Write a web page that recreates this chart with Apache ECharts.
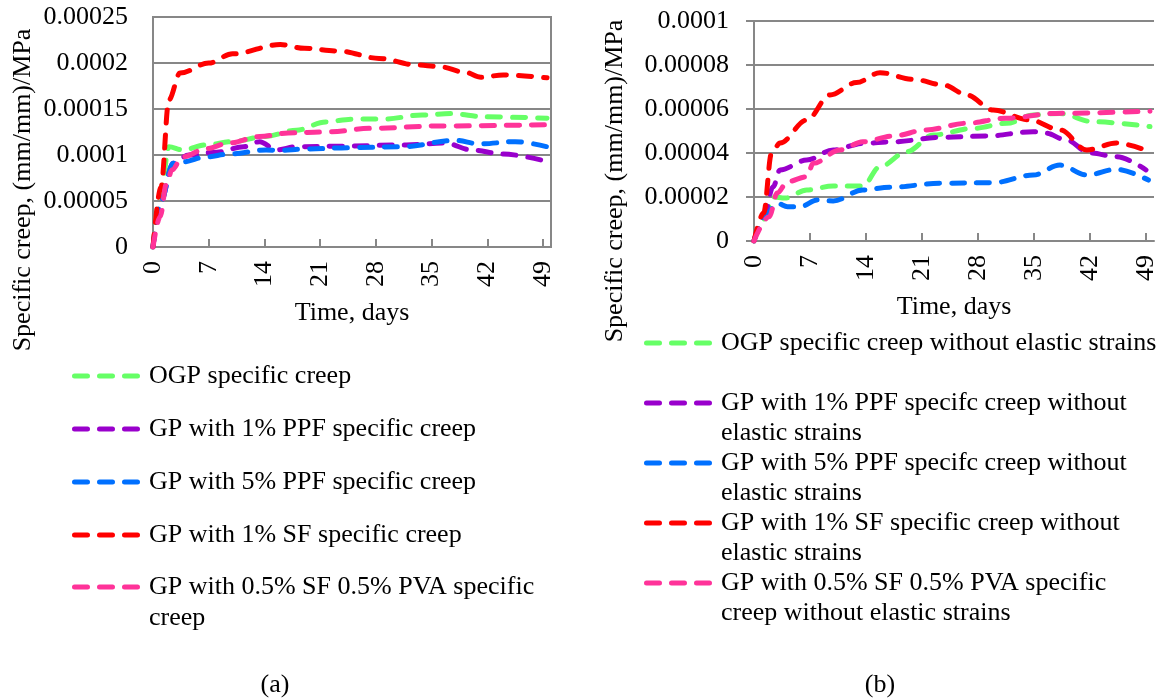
<!DOCTYPE html>
<html>
<head>
<meta charset="utf-8">
<script src="https://cdn.jsdelivr.net/npm/echarts@6/dist/echarts.min.js"></script>
<style>html,body{margin:0;padding:0;background:#fff;}#c{width:1174px;height:699px;}</style>
</head>
<body>
<div id="c"></div>
<script>
// ---------- Data (a) specific creep ----------
const dayTicks = [0, 7, 14, 21, 28, 35, 42, 49];
const yTicksA = [0, 0.00005, 0.0001, 0.00015, 0.0002, 0.00025];
const yTicksB = [0, 0.00002, 0.00004, 0.00006, 0.00008, 0.0001];

const yTitle = 'Specific creep, (mm/mm)/MPa';
const xTitle = 'Time, days';
const namesA = [
  'OGP specific creep',
  'GP with 1% PPF specific creep',
  'GP with 5% PPF specific creep',
  'GP with 1% SF specific creep',
  'GP with 0.5% SF 0.5% PVA specific\ncreep'
];
const namesB = [
  'OGP specific creep without elastic strains',
  'GP with 1% PPF specifc creep without\nelastic strains',
  'GP with 5% PPF specifc creep without\nelastic strains',
  'GP with 1% SF specific creep without\nelastic strains',
  'GP with 0.5% SF 0.5% PVA specific\ncreep without elastic strains'
];

const daysA_OGP = [0, 1, 2, 3.7, 6.7, 10, 14, 18, 21.7, 25, 29, 33.8, 37.5, 41.7, 49.5];
const valsA_OGP = [0, 0.6e-4, 1.09e-4, 1.055e-4, 1.11e-4, 1.145e-4, 1.2e-4, 1.27e-4, 1.36e-4, 1.39e-4, 1.39e-4, 1.435e-4, 1.45e-4, 1.415e-4, 1.4e-4];
const daysA_PPF1 = [0, 1, 2.5, 4.5, 8, 11.4, 13.4, 15.5, 18, 23.4, 31.8, 36.7, 40, 44, 49.5];
const valsA_PPF1 = [0, 0.5e-4, 0.91e-4, 1.0e-4, 1.03e-4, 1.09e-4, 1.145e-4, 1.055e-4, 1.09e-4, 1.095e-4, 1.11e-4, 1.13e-4, 1.055e-4, 1.01e-4, 0.93e-4];
const daysA_PPF5 = [0, 1, 2.5, 3.7, 6.7, 9.5, 14.2, 15.9, 19, 25, 31.3, 38, 41, 45.5, 49.5];
const valsA_PPF5 = [0, 0.5e-4, 0.91e-4, 0.925e-4, 0.98e-4, 1.01e-4, 1.055e-4, 1.05e-4, 1.065e-4, 1.08e-4, 1.09e-4, 1.16e-4, 1.12e-4, 1.145e-4, 1.09e-4];
const daysA_SF1 = [0, 1, 2, 3.4, 7, 10, 16, 19, 23.4, 28.4, 33, 36, 39.2, 41.2, 44, 49.5];
const valsA_SF1 = [0, 0.65e-4, 1.6e-4, 1.89e-4, 2.0e-4, 2.1e-4, 2.2e-4, 2.16e-4, 2.13e-4, 2.05e-4, 1.98e-4, 1.96e-4, 1.9e-4, 1.845e-4, 1.87e-4, 1.84e-4];
const daysA_PVA = [0, 0.9, 1.7, 2.4, 3.7, 6.7, 9.5, 13.4, 17, 21.7, 27.5, 35.8, 49.5];
const valsA_PVA = [0, 0.33e-4, 0.69e-4, 0.84e-4, 0.98e-4, 1.07e-4, 1.13e-4, 1.2e-4, 1.24e-4, 1.25e-4, 1.29e-4, 1.315e-4, 1.33e-4];

// ---------- Data (b) specific creep without elastic strains ----------
const daysB_OGP = [0, 1.2, 2.4, 3.9, 6.6, 9.9, 13.6, 15.75, 19.1, 22.4, 27.4, 31.6, 34.9, 38.2, 42.4, 49.5];
const valsB_OGP = [0, 1.0e-5, 2.0e-5, 1.95e-5, 2.32e-5, 2.5e-5, 2.5e-5, 3.38e-5, 4.06e-5, 4.82e-5, 5.12e-5, 5.35e-5, 5.73e-5, 5.8e-5, 5.42e-5, 5.2e-5];
const daysB_PPF1 = [0, 1.2, 2.4, 3.25, 6.6, 9.9, 13.6, 17.4, 23.2, 29, 34.9, 36.5, 39, 42, 45.3, 49];
const valsB_PPF1 = [0, 1.1e-5, 2.47e-5, 3.23e-5, 3.68e-5, 4.14e-5, 4.44e-5, 4.51e-5, 4.71e-5, 4.77e-5, 4.97e-5, 4.9e-5, 4.59e-5, 4.0e-5, 3.83e-5, 3.23e-5];
const daysB_PPF5 = [0, 1.6, 2.9, 4.2, 5.8, 7.9, 9.9, 13.6, 17, 23.2, 29.9, 34.9, 38.25, 41.6, 45.3, 49.3];
const valsB_PPF5 = [0, 1.27e-5, 1.72e-5, 1.56e-5, 1.56e-5, 1.86e-5, 1.82e-5, 2.32e-5, 2.44e-5, 2.62e-5, 2.65e-5, 3.0e-5, 3.45e-5, 3.0e-5, 3.26e-5, 2.77e-5];
const daysB_SF1 = [0, 1.2, 2.2, 3.25, 6.6, 9.5, 12.8, 15.75, 19.9, 23.7, 26.6, 29.9, 34.5, 38.25, 41.6, 45.3, 49.5];
const valsB_SF1 = [0, 1.27e-5, 4.0e-5, 4.45e-5, 5.5e-5, 6.64e-5, 7.2e-5, 7.65e-5, 7.35e-5, 7.09e-5, 6.64e-5, 5.95e-5, 5.5e-5, 5.05e-5, 4.14e-5, 4.45e-5, 4.06e-5];
const daysB_PVA = [0, 1.9, 2.9, 4.2, 6.6, 7.4, 10.75, 13.6, 17.4, 21.5, 26.5, 31.5, 37.7, 49.5];
const valsB_PVA = [0, 1.1e-5, 2.18e-5, 2.7e-5, 2.92e-5, 3.53e-5, 4.14e-5, 4.51e-5, 4.77e-5, 5.05e-5, 5.35e-5, 5.58e-5, 5.8e-5, 5.9e-5];

// ---------- Styles ----------
const colors = ['#66FF66', '#9900CC', '#0070FF', '#FF0000', '#FF3399'];
const FONT = '"Liberation Serif", "Times New Roman", serif';
const FS = 26;
const GRAY = '#878787';

const zip = (d, v) => d.map((x, i) => [x, v[i]]);
const seriesA = [[daysA_OGP, valsA_OGP], [daysA_PPF1, valsA_PPF1], [daysA_PPF5, valsA_PPF5], [daysA_SF1, valsA_SF1], [daysA_PVA, valsA_PVA]];
const seriesB = [[daysB_OGP, valsB_OGP], [daysB_PPF1, valsB_PPF1], [daysB_PPF5, valsB_PPF5], [daysB_SF1, valsB_SF1], [daysB_PVA, valsB_PVA]];

const fmtY = v => String(+(+v).toFixed(6));

function xAxisCfg(gi) {
  return {
    gridIndex: gi, type: 'value', min: 0, max: 50,
    name: xTitle, nameLocation: 'middle', nameGap: 53,
    nameTextStyle: { fontFamily: FONT, fontSize: FS, color: '#000' },
    axisLine: { show: true, lineStyle: { color: GRAY, width: 2 } },
    axisTick: { show: true, inside: true, length: 8, lineStyle: { color: GRAY, width: 2 }, customValues: dayTicks },
    axisLabel: { rotate: 90, margin: 14, fontFamily: FONT, fontSize: FS, color: '#000', customValues: dayTicks },
    splitLine: { show: false }
  };
}
function yAxisCfg(gi, max, interval, tickShow) {
  return {
    gridIndex: gi, type: 'value', min: 0, max: max, interval: interval,
    axisLine: { show: true, lineStyle: { color: GRAY, width: 2 } },
    axisTick: { show: tickShow, inside: false, length: 8, lineStyle: { color: GRAY, width: 2 } },
    axisLabel: { margin: 25, fontFamily: FONT, fontSize: FS, color: '#000', formatter: fmtY },
    splitLine: { show: true, lineStyle: { color: GRAY, width: 2 } }
  };
}

const series = [];
seriesA.forEach((s, i) => series.push({
  name: namesA[i], type: 'line', xAxisIndex: 0, yAxisIndex: 0,
  data: zip(s[0], s[1]), smooth: 0.35, smoothMonotone: 'x', symbol: 'none',
  lineStyle: { color: colors[i], width: 5, type: [13, 12], cap: 'round', join: 'round' }
}));
seriesB.forEach((s, i) => series.push({
  name: namesB[i], type: 'line', xAxisIndex: 1, yAxisIndex: 1,
  data: zip(s[0], s[1]), smooth: 0.35, smoothMonotone: 'x', symbol: 'none',
  lineStyle: { color: colors[i], width: 5, type: [13, 12], cap: 'round', join: 'round' }
}));

// ---------- Legends, axis titles and captions (graphic items) ----------
const legendA = { lineX: 72, textX: 149, ys: [376, 429, 482, 535, 587], lh: 31 };
const legendB = { lineX: 644, textX: 721, ys: [343, 403, 463, 523, 583], lh: 30 };
const graphics = [];
function addLegend(L, names) {
  names.forEach((n, i) => {
    const y = L.ys[i];
    graphics.push({
      type: 'line', silent: true,
      shape: { x1: L.lineX + 2.5, y1: y, x2: L.lineX + 65.5, y2: y },
      style: { stroke: colors[i], lineWidth: 5, lineDash: [13, 12], lineCap: 'round' }
    });
    graphics.push({
      type: 'text', silent: true, x: L.textX, y: y - L.lh / 2,
      style: { text: n, font: FS + 'px ' + FONT, fill: '#000', verticalAlign: 'top', lineHeight: L.lh }
    });
  });
}
addLegend(legendA, namesA);
addLegend(legendB, namesB);
function addYTitle(x, y) {
  graphics.push({
    type: 'text', silent: true, x: x, y: y, rotation: Math.PI / 2,
    style: { text: yTitle, font: FS + 'px ' + FONT, fill: '#000', align: 'center', verticalAlign: 'middle' }
  });
}
addYTitle(23, 190);
addYTitle(615, 181);
graphics.push({ type: 'text', silent: true, x: 275, y: 685, style: { text: '(a)', font: FS + 'px ' + FONT, fill: '#000', align: 'center', verticalAlign: 'middle' } });
graphics.push({ type: 'text', silent: true, x: 880, y: 685, style: { text: '(b)', font: FS + 'px ' + FONT, fill: '#000', align: 'center', verticalAlign: 'middle' } });

const chart = echarts.init(document.getElementById('c'), null, { renderer: 'canvas' });
chart.setOption({
  backgroundColor: '#fff',
  animation: false,
  grid: [
    { left: 153, top: 17, width: 398, height: 230, containLabel: false, outerBoundsMode: 'none', show: true, borderColor: GRAY, borderWidth: 2, backgroundColor: 'transparent' },
    { left: 754, top: 21, width: 400, height: 220, containLabel: false, outerBoundsMode: 'none' }
  ],
  xAxis: [xAxisCfg(0), xAxisCfg(1)],
  yAxis: [
    yAxisCfg(0, 0.00025, 0.00005, false),
    yAxisCfg(1, 0.0001, 0.00002, true)
  ],
  series: series,
  graphic: graphics
});
</script>
</body>
</html>
